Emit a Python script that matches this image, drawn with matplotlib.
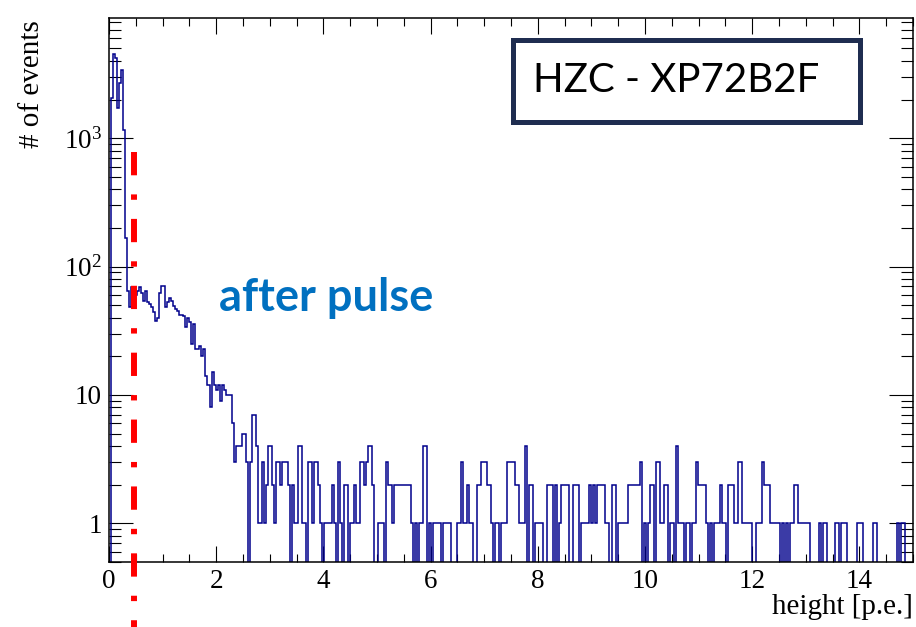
import numpy as np
import matplotlib
matplotlib.use("Agg")
import matplotlib.pyplot as plt
import matplotlib.transforms as mtransforms
from matplotlib.patches import Rectangle
from matplotlib.ticker import MultipleLocator, FixedLocator, LogLocator, FuncFormatter, NullFormatter

# ---------------- data ----------------
bin_width = 0.0375
x_min, x_max = 0.0, 15.0
counts = [
    0, 2050, 4500, 4200, 1720, 2700, 3400, 1150, 167, 65,
    48, 69, 62, 60, 65, 69, 62, 54, 64, 53,
    51, 48, 44, 38, 40, 62, 71, 71, 48, 53,
    57, 54, 49, 47, 45, 42, 42, 41, 34, 40,
    37, 25, 36, 23, 23, 24, 20, 23, 14, 12,
    8, 15, 12, 11, 12, 9, 12, 11, 10, 10,
    10, 6, 3, 4, 4, 4, 5, 5, 3, 0,
    3, 7, 7, 4, 1, 1, 3, 1, 2, 4,
    4, 2, 1, 3, 3, 2, 3, 3, 3, 2,
    0, 2, 1, 1, 4, 4, 1, 1, 0, 3,
    3, 1, 3, 3, 2, 1, 0, 1, 1, 1,
    1, 2, 1, 0, 3, 1, 0, 2, 2, 0,
    1, 1, 2, 1, 1, 3, 3, 2, 3, 4,
    4, 2, 0, 0, 1, 1, 1, 0, 3, 2,
    2, 1, 2, 2, 2, 2, 2, 2, 2, 2,
    1, 0, 1, 0, 1, 1, 4, 4, 0, 1,
    0, 1, 1, 1, 1, 0, 1, 1, 1, 1,
    0, 0, 0, 1, 1, 3, 1, 1, 2, 1,
    1, 0, 0, 2, 2, 3, 3, 3, 2, 2,
    1, 0, 1, 1, 0, 1, 1, 1, 3, 3,
    3, 3, 2, 2, 1, 1, 1, 4, 0, 2,
    2, 0, 1, 1, 1, 1, 0, 0, 2, 2,
    2, 0, 2, 0, 1, 2, 2, 2, 2, 0,
    0, 2, 2, 2, 0, 1, 1, 1, 1, 2,
    1, 2, 1, 2, 2, 2, 2, 1, 1, 0,
    2, 2, 0, 1, 1, 1, 1, 1, 2, 2,
    2, 2, 2, 2, 3, 0, 1, 0, 1, 2,
    2, 0, 3, 3, 1, 1, 2, 2, 0, 1,
    1, 0, 4, 1, 1, 1, 0, 1, 1, 0,
    1, 1, 3, 2, 2, 2, 2, 1, 0, 1,
    0, 1, 1, 1, 2, 1, 1, 0, 2, 2,
    2, 1, 1, 3, 3, 1, 1, 1, 1, 1,
    0, 0, 1, 1, 1, 3, 2, 2, 2, 1,
    1, 1, 1, 1, 0, 1, 0, 1, 0, 1,
    1, 2, 2, 1, 1, 1, 1, 1, 1, 0,
    0, 0, 0, 1, 0, 1, 1, 0, 0, 0,
    0, 1, 1, 0, 1, 1, 1, 0, 0, 0,
    0, 0, 1, 1, 1, 0, 0, 0, 0, 0,
    1, 1, 0, 0, 0, 0, 0, 0, 0, 0,
    0, 0, 1, 0, 1, 1, 0, 0, 0, 0,
]
cut_x = 0.47
x_ticks = [0, 2, 4, 6, 8, 10, 12, 14]
y_ticks = [1, 10, 100, 1000]
y_tick_labels = ["1", "10", "$10^{2}$", "$10^{3}$"]
x_title = "height [p.e.]"
y_title = "# of events"
annotation = "after pulse"
box_label = "HZC - XP72B2F"

# ---------------- style ----------------
plt.rcParams["font.family"] = ["Liberation Serif", "DejaVu Serif"]
plt.rcParams["mathtext.fontset"] = "custom"
plt.rcParams["mathtext.rm"] = "Liberation Serif"
plt.rcParams["mathtext.it"] = "Liberation Serif:italic"

W, H = 916, 627
fig = plt.figure(figsize=(W / 100, H / 100), dpi=100)
L, R, T, B = 109, 913, 18, 562
ax = fig.add_axes([L / W, 1 - B / H, (R - L) / W, (B - T) / H])

edges = x_min + bin_width * np.arange(len(counts) + 1)
ax.stairs(counts, edges, color="#00008b", lw=1.1, zorder=2)

ax.set_yscale("log")
ax.set_xlim(x_min, x_max)
ax.set_ylim(0.5, 8630)

ax.xaxis.set_major_locator(FixedLocator(x_ticks))
ax.xaxis.set_minor_locator(MultipleLocator(0.5))
ax.yaxis.set_major_locator(FixedLocator(y_ticks))
ax.yaxis.set_minor_locator(LogLocator(base=10, subs=range(2, 10)))
lab = dict(zip(y_ticks, y_tick_labels))
ax.yaxis.set_major_formatter(FuncFormatter(lambda v, p: lab.get(int(round(v)), "")))
ax.yaxis.set_minor_formatter(NullFormatter())

ax.tick_params(axis="x", which="major", direction="in", length=11.5, width=0.8,
               top=True, labelsize=19.5, pad=5)
ax.tick_params(axis="x", which="minor", direction="in", length=5.8, width=0.8, top=True)
ax.tick_params(axis="y", which="major", direction="in", length=17, width=0.8,
               right=True, labelsize=19.5, pad=5)
ax.tick_params(axis="y", which="minor", direction="in", length=8.6, width=0.8, right=True)
for s in ax.spines.values():
    s.set_linewidth(1.1)

ax.set_xlabel(x_title, fontsize=21, loc="right")
ax.xaxis.set_label_coords(1.0, (B - 607) / (B - T))
ax.xaxis.label.set_va("center")
ax.set_ylabel(y_title, fontsize=21, loc="top")
ylab = ax.yaxis.label
ylab.set_ha("right")
ylab.set_va("center")
ax.yaxis.set_label_coords((32 - L) / (R - L), (B - 20) / (B - T))

# cut line (dash-dot, extends below the frame)
trans = mtransforms.blended_transform_factory(ax.transData, ax.transAxes)
ax.plot([cut_x, cut_x], [(B - 152) / (B - T), (B - 640) / (B - T)], transform=trans,
        color="#ff0000", lw=4.3, linestyle=(0, (3.9, 3.2, 0.9, 3.2)),
        dash_capstyle="butt", clip_on=False, zorder=5)

fig.text(326 / W, 1 - 298 / H, annotation, color="#0070c0", fontsize=32.5,
         fontweight="bold", family=["Lato", "DejaVu Sans"], ha="center", va="center")

fig.patches.append(Rectangle((513 / W, 1 - 122 / H), (860 - 513) / W, (122 - 40) / H,
                             transform=fig.transFigure, facecolor="white",
                             edgecolor="#1f2d50", lw=3.6, zorder=3))
fig.text(533 / W, 1 - 81 / H, box_label, color="black", fontsize=29,
         family=["Lato", "DejaVu Sans"], ha="left", va="center", zorder=4)

fig.savefig("out.png", dpi=100)
